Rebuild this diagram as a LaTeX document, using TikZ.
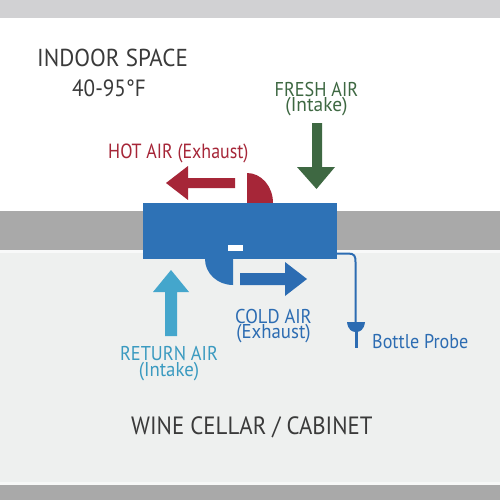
\documentclass[tikz,border=0pt]{standalone}
\usepackage{fontspec}
\usepackage{graphicx}
\setmainfont{PT Sans}
\definecolor{topband}{RGB}{209,209,211}
\definecolor{wallgray}{RGB}{169,169,169}
\definecolor{cellarbg}{RGB}{238,240,239}
\definecolor{hotred}{RGB}{166,38,56}
\definecolor{freshgreen}{RGB}{62,104,66}
\definecolor{unitblue}{RGB}{46,114,182}
\definecolor{coldblue}{RGB}{44,108,178}
\definecolor{returncyan}{RGB}{68,166,204}
\definecolor{returntext}{RGB}{58,154,192}
\definecolor{darktext}{RGB}{58,58,58}
\newcommand\hsq[2]{\scalebox{#1}[1]{#2}}
\tikzset{
  lblw/.style={inner sep=0pt, anchor=base west, text height=0.68em, text depth=0pt},
  twoline/.style={inner sep=0pt, align=center, font=\fontsize{20}{#1}\selectfont},
}
\begin{document}
\begin{tikzpicture}[x=1pt,y=-1pt]
\useasboundingbox (0,0) rectangle (500,500);
% backgrounds
\fill[white] (0,0) rectangle (500,500);
\fill[topband] (0,0) rectangle (500,18);
\fill[wallgray] (0,211) rectangle (500,250);
\fill[white!60!cellarbg] (0,250) rectangle (500,253);
\fill[cellarbg] (0,253) rectangle (500,482);
\fill[white!50!cellarbg] (0,482) rectangle (500,485);
\fill[wallgray] (0,485) rectangle (500,500);
% red hood and arrow
\fill[hotred] (247,203) -- (247,173) arc[start angle=-90, end angle=0, x radius=26, y radius=30] -- cycle;
\fill[hotred] (235,178) -- (188,178) -- (188,166) -- (166,183) -- (188,200) -- (188,188) -- (235,188) -- cycle;
% green arrow
\fill[freshgreen] (312,123) -- (322,123) -- (322,167) -- (335,167) -- (316.5,189) -- (297,167) -- (312,167) -- cycle;
% unit
\fill[unitblue] (143,203) rectangle (337,259);
\fill[white] (228,245) rectangle (243,251);
\fill[unitblue] (233,259) -- (205,259) arc[start angle=180, end angle=90, x radius=28, y radius=26] -- cycle;
% cold arrow
\fill[coldblue] (240,273) -- (285,273) -- (285,262) -- (307,279) -- (285,296) -- (285,285) -- (240,285) -- cycle;
% return arrow
\fill[returncyan] (165,336) -- (165,292) -- (153,292) -- (171,270) -- (189,292) -- (177,292) -- (177,336) -- cycle;
% probe
\draw[coldblue, line width=2pt] (337,253.5) -- (348,253.5) .. controls (354.5,253.5) and (355.5,256) .. (355.5,262) -- (355.5,324);
\fill[coldblue] (347,322) -- (365,322) .. controls (364,330) and (360,332) .. (356,332) .. controls (352,332) and (348,330) .. (347,322) -- cycle;
\fill[coldblue] (354.5,330) rectangle (357.5,348);
% texts
\node[lblw, text=darktext, font=\fontsize{24.5}{29}\selectfont] (indoor) at (37,67) {\hsq{0.94}{INDOOR SPACE}};
\node[lblw, text=darktext, font=\fontsize{23.5}{28}\selectfont] (temp) at (72,97) {\hsq{0.9}{40-95°F}};
\node[lblw, text=hotred, font=\fontsize{20.5}{25}\selectfont] (hot) at (108,158) {\hsq{0.875}{HOT AIR (Exhaust)}};
\node[twoline=15.5, text=freshgreen, anchor=north] (fresh) at (316.5,82) {\hsq{0.91}{FRESH AIR}\\\hsq{0.97}{(Intake)}};
\node[twoline=16.5, text=returntext, anchor=north] (ret) at (169,346) {\hsq{0.915}{RETURN AIR}\\\hsq{0.94}{(Intake)}};
\node[twoline=15.5, text=coldblue, anchor=north west] (cold) at (235,309) {\hsq{0.925}{COLD AIR}\\\hsq{0.94}{(Exhaust)}};
\node[lblw, text=coldblue, font=\fontsize{20}{24}\selectfont] (probe) at (372,348) {\hsq{0.905}{Bottle Probe}};
\node[lblw, text=darktext, font=\fontsize{25}{30}\selectfont] (cellar) at (131,434) {\hsq{0.913}{WINE CELLAR / CABINET}};
\end{tikzpicture}
\end{document}
